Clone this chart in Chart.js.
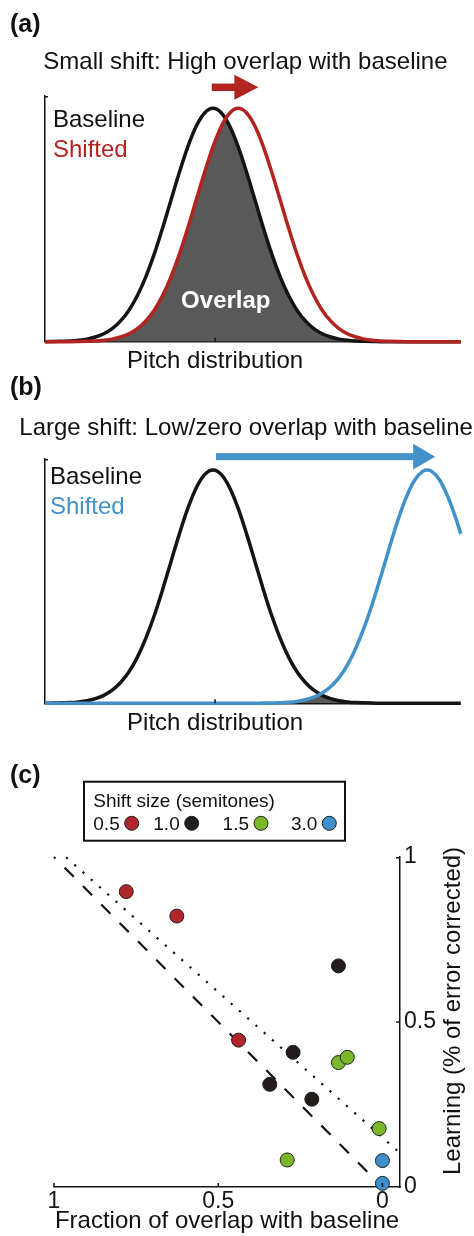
<!DOCTYPE html>
<html>
<head>
<meta charset="utf-8">
<script src="https://cdn.jsdelivr.net/npm/chart.js@4.4.1/dist/chart.umd.min.js"></script>
<style>
html,body{margin:0;padding:0;background:#fff;}
#wrap{position:relative;width:474px;height:1236px;overflow:hidden;background:#fff;}
canvas{position:absolute;left:0;}
</style>
</head>
<body>
<div id="wrap">
<canvas id="ca" width="474" height="380" style="top:0px"></canvas>
<canvas id="cb" width="474" height="400" style="top:360px"></canvas>
<canvas id="cc" width="474" height="476" style="top:760px"></canvas>
</div>
<script>
// ---------------- DATA ----------------
// Panels (a) and (b): pitch distributions (arbitrary pitch units, density normalised to peak = 1)
const pitchX = [0,2,4,6,8,10,12,14,16,18,20,22,24,26,28,30,32,34,36,38,40,42,44,46,48,50,52,54,56,58,60,62,64,66,68,70,72,74,76,78,80,82,84,86,88,90,92,94,96,98,99];
const baselineDist = [0,0.001,0.002,0.003,0.006,0.011,0.020,0.034,0.056,0.089,0.135,0.198,0.278,0.375,0.487,0.607,0.726,0.835,0.923,0.980,1.000,0.980,0.923,0.835,0.726,0.607,0.487,0.375,0.278,0.198,0.135,0.089,0.056,0.034,0.020,0.011,0.006,0.003,0.002,0.001,0,0,0,0,0,0,0,0,0,0,0];
const smallShiftDist = [0,0,0,0,0.001,0.002,0.003,0.006,0.011,0.020,0.034,0.056,0.089,0.135,0.198,0.278,0.375,0.487,0.607,0.726,0.835,0.923,0.980,1.000,0.980,0.923,0.835,0.726,0.607,0.487,0.375,0.278,0.198,0.135,0.089,0.056,0.034,0.020,0.011,0.006,0.003,0.002,0.001,0,0,0,0,0,0,0,0];
const largeShiftX = [0,10,20,30,40,50,52,54,56,58,60,62,64,66,68,70,72,74,76,78,80,82,84,86,88,90,91,92,94,96,98,99];
const largeShiftDist = [0,0,0,0,0,0,0.001,0.001,0.002,0.004,0.008,0.015,0.026,0.044,0.071,0.110,0.164,0.236,0.325,0.430,0.546,0.667,0.783,0.882,0.956,0.995,1.000,0.995,0.956,0.882,0.783,0.726];
const smallOverlapX = [0,2,4,6,8,10,12,14,16,18,20,22,24,26,28,30,32,34,36,38,40,42,43,44,46,48,50,52,54,56,58,60,62,64,66,68,70,72,74,76,78,80,99];
const smallOverlapY = [0,0,0,0,0.001,0.002,0.003,0.006,0.011,0.020,0.034,0.056,0.089,0.135,0.198,0.278,0.375,0.487,0.607,0.726,0.835,0.923,0.956,0.923,0.835,0.726,0.607,0.487,0.375,0.278,0.198,0.135,0.089,0.056,0.034,0.020,0.011,0.006,0.003,0.002,0.001,0,0];
const largeOverlapX = [50,52,54,56,58,60,62,64,65.5,66,68,70,72,74,76,78,80];
const largeOverlapY = [0,0.001,0.001,0.002,0.004,0.008,0.015,0.026,0.039,0.034,0.020,0.011,0.006,0.003,0.002,0.001,0];
const pitchTick = [40.5];
const smallArrow = [39.7, 50.8];   // from, to (pitch units)
const smallArrowLevel = 1.09;
const largeArrow = [40.7, 92.9];
const largeArrowLevel = 1.057;

// Panel (c): fraction of overlap vs learning
const shiftLabels = ['0.5', '1.0', '1.5', '3.0'];
const overlap05 = [0.780, 0.626, 0.438];
const learning05 = [0.895, 0.821, 0.445];
const overlap10 = [0.134, 0.272, 0.343, 0.215];
const learning10 = [0.670, 0.408, 0.311, 0.266];
const overlap15 = [0.134, 0.107, 0.010, 0.290];
const learning15 = [0.377, 0.393, 0.177, 0.082];
const overlap30 = [0.000, 0.000];
const learning30 = [0.080, 0.011];
const unityX = [1, 0];
const unityY = [1, 0];
const fitX = [0.963, -0.05];
const fitY = [0.999, 0.106];
const fractionTicks = [0, 0.5, 1];
const learningTicks = [0, 0.5, 1];

// ---------------- STYLE ----------------
const FAM = "'Liberation Sans', Arial, Helvetica, sans-serif";
Chart.defaults.font.family = FAM;
Chart.defaults.color = '#141414';
const INK = '#141414';
const RED = '#B2241F';
const BLUE = '#4292C9';
const GRAY = '#595959';
const PT_COLORS = ['#B0262A', '#221D1B', '#7BB829', '#3F8FCB'];

const pts = (xs, ys) => xs.map((x, i) => ({x: x, y: ys[i]}));

function txt(ctx, s, x, y, font, color, align) {
  ctx.font = font;
  ctx.fillStyle = color;
  ctx.textAlign = align || 'left';
  ctx.textBaseline = 'alphabetic';
  ctx.fillText(s, x, y);
}

function drawArrow(ctx, x1, x2, yc, shaft, headLen, headHalf, color) {
  ctx.fillStyle = color;
  ctx.fillRect(x1, yc - shaft / 2, (x2 - headLen) - x1 + 1, shaft);
  ctx.beginPath();
  ctx.moveTo(x2 - headLen, yc - headHalf);
  ctx.lineTo(x2, yc);
  ctx.lineTo(x2 - headLen, yc + headHalf);
  ctx.closePath();
  ctx.fill();
}

function distChart(id, o) {
  const annot = {
    id: 'annot_' + id,
    afterDraw(chart) {
      const ctx = chart.ctx;
      const xs = chart.scales.x, ys = chart.scales.y;
      ctx.save();
      // inward tick marks
      ctx.strokeStyle = INK; ctx.lineWidth = 1.5;
      const x0 = xs.getPixelForValue(xs.min);
      const yTop = ys.getPixelForValue(ys.max);
      ctx.beginPath(); ctx.moveTo(x0, yTop + 0.75); ctx.lineTo(x0 + 3, yTop + 0.75); ctx.stroke();
      const yb = ys.getPixelForValue(0);
      pitchTick.forEach(v => {
        const tx = xs.getPixelForValue(v);
        ctx.beginPath(); ctx.moveTo(tx, yb); ctx.lineTo(tx, yb - 4); ctx.stroke();
      });
      // arrow
      drawArrow(ctx, xs.getPixelForValue(o.arrow[0]), xs.getPixelForValue(o.arrow[1]),
        ys.getPixelForValue(o.arrowLevel), o.shaft, o.headLen, o.headHalf, o.color);
      // texts
      txt(ctx, o.panel, 10, o.panelY, "bold 25px " + FAM, '#111', 'left');
      txt(ctx, o.title, o.titleX, o.titleY, "24px " + FAM, '#111', 'left');
      txt(ctx, 'Baseline', o.legX, o.legY, "24px " + FAM, '#111', 'left');
      txt(ctx, 'Shifted', o.legX, o.legY + 29.3, "24px " + FAM, o.color, 'left');
      if (o.overlapLabel) txt(ctx, 'Overlap', o.overlapLabel[0], o.overlapLabel[1], "bold 24px " + FAM, '#fff', 'center');
      txt(ctx, 'Pitch distribution', xs.getPixelForValue(pitchTick[0]), yb + 26.6, "24px " + FAM, '#111', 'center');
      ctx.restore();
    }
  };
  return new Chart(document.getElementById(id), {
    type: 'line',
    data: {
      datasets: [
        {label: 'Shifted', data: pts(o.shiftedX, o.shifted), borderColor: o.color, borderWidth: 3.5,
         pointRadius: 0, cubicInterpolationMode: 'monotone', fill: false, clip: false},
        {label: 'Baseline', data: pts(pitchX, baselineDist), borderColor: INK, borderWidth: 3.5,
         pointRadius: 0, cubicInterpolationMode: 'monotone', fill: false, clip: false},
        {label: 'Overlap', data: pts(o.ovX, o.ovY), borderWidth: 0, borderColor: 'rgba(0,0,0,0)',
         backgroundColor: GRAY, fill: 'origin', pointRadius: 0, tension: 0, clip: false}
      ]
    },
    options: {
      responsive: false, animation: false, events: [], devicePixelRatio: 1,
      layout: {padding: o.pad},
      plugins: {legend: {display: false}, tooltip: {enabled: false}, title: {display: false}},
      scales: {
        x: {type: 'linear', min: 0, max: o.xMax, ticks: {display: false},
            grid: {display: false, drawTicks: false}, border: {display: true, color: INK, width: 1.5},
            afterFit(s) { s.height = 0; }},
        y: {type: 'linear', min: 0, max: o.yMax, ticks: {display: false},
            grid: {display: false, drawTicks: false}, border: {display: true, color: INK, width: 1.5},
            afterFit(s) { s.width = 0; }}
      }
    },
    plugins: [annot]
  });
}

distChart('ca', {
  shiftedX: pitchX, shifted: smallShiftDist, color: RED, ovX: smallOverlapX, ovY: smallOverlapY,
  pad: {left: 45, right: 14, top: 96, bottom: 38.3}, xMax: 98.81, yMax: 1.0527,
  arrow: smallArrow, arrowLevel: smallArrowLevel, shaft: 7.5, headLen: 24, headHalf: 12.5,
  panel: '(a)', panelY: 32, title: 'Small shift: High overlap with baseline', titleX: 43.3, titleY: 68.5,
  legX: 53, legY: 127.3, overlapLabel: [225.8, 308.3]
});

distChart('cb', {
  shiftedX: largeShiftX, shifted: largeShiftDist, color: BLUE, ovX: largeOverlapX, ovY: largeOverlapY,
  pad: {left: 45, right: 17, top: 99, bottom: 56.7}, xMax: 98.1, yMax: 1.047,
  arrow: largeArrow, arrowLevel: largeArrowLevel, shaft: 7, headLen: 22, headHalf: 12.8,
  panel: '(b)', panelY: 35, title: 'Large shift: Low/zero overlap with baseline', titleX: 19.3, titleY: 75,
  legX: 50, legY: 124.3, overlapLabel: null
});

// ---------------- PANEL C ----------------
const legendLayout = {box: [84, 21.7, 261, 59], titleX: 93.3, titleY: 47.3, rowY: 70, dotY: 63.3,
  dotX: [131.7, 191.7, 261, 329.3]};

const panelC = {
  id: 'panelC',
  afterDraw(chart) {
    const ctx = chart.ctx;
    const xs = chart.scales.x, ys = chart.scales.y;
    ctx.save();
    // inward ticks
    ctx.strokeStyle = INK; ctx.lineWidth = 1.5;
    const yb = ys.getPixelForValue(0), xr = xs.getPixelForValue(xs.min);
    fractionTicks.forEach(v => {
      const p = xs.getPixelForValue(v);
      ctx.beginPath(); ctx.moveTo(p, yb); ctx.lineTo(p, yb - 4); ctx.stroke();
    });
    learningTicks.forEach(v => {
      if (v === 0) return;
      const p = ys.getPixelForValue(v) + (v === 1 ? 0.75 : 0);
      ctx.beginPath(); ctx.moveTo(xr, p); ctx.lineTo(xr - 4, p); ctx.stroke();
    });
    // panel label
    txt(ctx, '(c)', 10, 22.7, "bold 25px " + FAM, '#111', 'left');
    // legend
    const L = legendLayout;
    ctx.strokeStyle = '#111'; ctx.lineWidth = 2;
    ctx.strokeRect(L.box[0], L.box[1], L.box[2], L.box[3]);
    txt(ctx, 'Shift size (semitones)', L.titleX, L.titleY, "19px " + FAM, '#111', 'left');
    chart.data.datasets.slice(0, 4).forEach((d, i) => {
      txt(ctx, d.label, L.dotX[i] - 12, L.rowY, "19px " + FAM, '#111', 'right');
      ctx.beginPath(); ctx.arc(L.dotX[i], L.dotY, 7, 0, Math.PI * 2);
      ctx.fillStyle = d.backgroundColor; ctx.fill();
      ctx.strokeStyle = '#1f1f1f'; ctx.lineWidth = 1; ctx.stroke();
    });
    // y-axis title (reads bottom to top)
    ctx.translate(453, 251);
    ctx.rotate(-Math.PI / 2);
    ctx.font = "24px " + FAM; ctx.fillStyle = '#111'; ctx.textAlign = 'center'; ctx.textBaseline = 'middle';
    ctx.fillText('Learning (% of error corrected)', 0, 0);
    ctx.restore();
  }
};

const ptDs = (label, xs, ys, c) => ({label: label, data: pts(xs, ys), backgroundColor: c, borderColor: '#1f1f1f',
  pointBackgroundColor: c, pointBorderColor: '#1f1f1f', pointBorderWidth: 1, pointRadius: 7, showLine: false, clip: false});

new Chart(document.getElementById('cc'), {
  type: 'scatter',
  data: {
    datasets: [
      ptDs(shiftLabels[0], overlap05, learning05, PT_COLORS[0]),
      ptDs(shiftLabels[1], overlap10, learning10, PT_COLORS[1]),
      ptDs(shiftLabels[2], overlap15, learning15, PT_COLORS[2]),
      ptDs(shiftLabels[3], overlap30, learning30, PT_COLORS[3]),
      {label: 'unity', data: pts(unityX, unityY), showLine: true, borderColor: INK, borderWidth: 2.2,
       borderDash: [13, 13], borderDashOffset: 11, pointRadius: 0, clip: false},
      {label: 'fit', data: pts(fitX, fitY), showLine: true, borderColor: INK, borderWidth: 2.2,
       borderDash: [2.2, 8.8], pointRadius: 0, clip: false}
    ]
  },
  options: {
    responsive: false, animation: false, events: [], devicePixelRatio: 1,
    layout: {padding: {left: 54, right: 0, top: 97, bottom: 0}},
    plugins: {legend: {display: false}, tooltip: {enabled: false}},
    scales: {
      x: {type: 'linear', reverse: true, min: -0.0535, max: 1,
          afterBuildTicks(s) { s.ticks = fractionTicks.map(v => ({value: v})); },
          ticks: {font: {size: 23}, color: INK, padding: 1, maxRotation: 0, autoSkip: false, callback: v => String(v)},
          grid: {display: false, drawTicks: false}, border: {display: true, color: INK, width: 1.5},
          title: {display: true, text: 'Fraction of overlap with baseline', font: {size: 24}, color: '#111',
                  padding: {top: 0, bottom: 0}},
          afterFit(s) { s.height = 49; }},
      y: {type: 'linear', position: 'right', min: 0, max: 1,
          afterBuildTicks(s) { s.ticks = learningTicks.map(v => ({value: v})); },
          ticks: {font: {size: 23}, color: INK, padding: 4, autoSkip: false, callback: v => String(v)},
          grid: {display: false, drawTicks: false}, border: {display: true, color: INK, width: 1.5},
          afterFit(s) { s.width = 74; }}
    }
  },
  plugins: [panelC]
});
</script>
</body>
</html>
